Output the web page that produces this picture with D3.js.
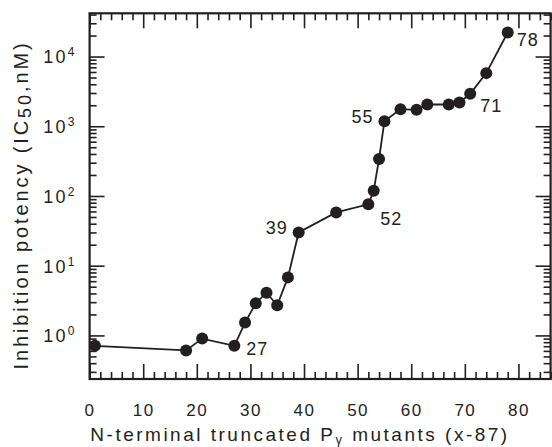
<!DOCTYPE html>
<html>
<head>
<meta charset="utf-8">
<script src="https://cdn.jsdelivr.net/npm/d3@7"></script>
<style>
  body { margin: 0; background: #fff; }
  text { font-family: "Liberation Sans", Arial, sans-serif; fill: #231f20; }
</style>
</head>
<body>
<svg width="552" height="447"></svg>
<script>
'use strict';

// truncation position (x-87) and IC50 (nM)
const mutants = [1, 18, 21, 27, 29, 31, 33, 35, 37, 39, 46, 52, 53, 54, 55, 58, 61, 63, 67, 69, 71, 74, 78]
const ic50 = [0.71, 0.61, 0.90, 0.71, 1.53, 2.9, 4.1, 2.7, 6.8, 30, 58, 76, 119, 340, 1180, 1760, 1720, 2050, 2050, 2190, 2920, 5780, 22100]
const labelled = [27, 39, 52, 55, 71, 78]
const xTicks = [0, 10, 20, 30, 40, 50, 60, 70, 80]
const yDecades = [0, 1, 2, 3, 4]

const data = mutants.map((m, i) => ({ x: m, y: ic50[i] }))

const svg = d3.select('svg')
const pLeft = 89.6, pRight = 550.6, pTop = 13.3, pBottom = 379

const x = d3.scaleLinear().domain([0, 86]).range([pLeft, pRight])
const y = d3.scaleLog().domain([Math.pow(10, -0.625), Math.pow(10, 4.62)]).range([pBottom, pTop])

// minor ticks
const xMinor = d3.range(0, 87, 2).filter((v) => v % 10 !== 0)
const yMinor = []
yDecades.concat([-1]).forEach((e) => {
  for (let k = 2; k <= 9; k++) {
    const v = k * Math.pow(10, e)
    if (v > y.domain()[0] && v < y.domain()[1]) yMinor.push(v)
  }
})

const styleAxis = (g) => {
  g.select('.domain').remove()
  g.selectAll('.tick line').attr('stroke', '#231f20').attr('stroke-width', 1.6)
}

// bottom
svg.append('g').attr('transform', `translate(0,${pBottom})`)
  .call(d3.axisBottom(x).tickValues(xMinor).tickSize(-7).tickFormat(''))
  .call(styleAxis)
svg.append('g').attr('transform', `translate(0,${pBottom})`)
  .call(d3.axisBottom(x).tickValues(xTicks).tickSize(-15).tickPadding(25))
  .call(styleAxis)
  .call((g) => g.selectAll('text').attr('font-size', 17).attr('letter-spacing', 1.5).attr('fill', '#231f20'))

// top
svg.append('g').attr('transform', `translate(0,${pTop})`)
  .call(d3.axisTop(x).tickValues(xMinor).tickSize(-7).tickFormat(''))
  .call(styleAxis)
svg.append('g').attr('transform', `translate(0,${pTop})`)
  .call(d3.axisTop(x).tickValues(xTicks).tickSize(-15).tickFormat(''))
  .call(styleAxis)

// left
svg.append('g').attr('transform', `translate(${pLeft},0)`)
  .call(d3.axisLeft(y).tickValues(yMinor).tickSize(-7).tickFormat(''))
  .call(styleAxis)
svg.append('g').attr('transform', `translate(${pLeft},0)`)
  .call(d3.axisLeft(y).tickValues(yDecades.map((e) => Math.pow(10, e))).tickSize(-15).tickFormat(''))
  .call(styleAxis)
  .call((g) => g.selectAll('.tick').each(function(d, i) {
    const t = d3.select(this).append('text')
      .attr('x', -13).attr('dy', '0.35em').attr('text-anchor', 'end')
      .attr('font-size', 18).attr('letter-spacing', 2.2)
    t.append('tspan').text('10')
    t.append('tspan').attr('font-size', 12).attr('dy', -7).text(yDecades[i])
  }))

// right
svg.append('g').attr('transform', `translate(${pRight},0)`)
  .call(d3.axisRight(y).tickValues(yMinor).tickSize(-7).tickFormat(''))
  .call(styleAxis)
svg.append('g').attr('transform', `translate(${pRight},0)`)
  .call(d3.axisRight(y).tickValues(yDecades.map((e) => Math.pow(10, e))).tickSize(-15).tickFormat(''))
  .call(styleAxis)

// frame
svg.append('rect')
  .attr('x', pLeft).attr('y', pTop)
  .attr('width', pRight - pLeft).attr('height', pBottom - pTop)
  .attr('fill', 'none').attr('stroke', '#231f20').attr('stroke-width', 2.2)

// line + points
const line = d3.line().x((d) => x(d.x)).y((d) => y(d.y))
svg.append('path').datum(data)
  .attr('d', line)
  .attr('fill', 'none')
  .attr('stroke', '#231f20')
  .attr('stroke-width', 1.8)

svg.selectAll('circle.pt').data(data).enter()
  .append('circle').classed('pt', true)
  .attr('cx', (d) => x(d.x))
  .attr('cy', (d) => y(d.y))
  .attr('r', 6)
  .attr('fill', '#231f20')

// point labels: [dx, dy, anchor]
const labelPos = {
  27: [12, 3, 'start'],
  39: [-11, -5, 'end'],
  52: [12, 14, 'start'],
  55: [-11, -5, 'end'],
  71: [10, 12, 'start'],
  78: [9, 7, 'start']
}
svg.selectAll('text.pl').data(data.filter((d) => labelled.includes(d.x))).enter()
  .append('text').classed('pl', true)
  .attr('x', (d) => x(d.x) + labelPos[d.x][0])
  .attr('y', (d) => y(d.y) + labelPos[d.x][1])
  .attr('dy', '0.35em')
  .attr('text-anchor', (d) => labelPos[d.x][2])
  .attr('font-size', 18)
  .attr('letter-spacing', 1)
  .text((d) => d.x)

// axis titles
const yt = svg.append('text')
  .attr('transform', `translate(28,205) rotate(-90)`)
  .attr('text-anchor', 'middle')
  .attr('font-size', 20)
  .attr('letter-spacing', 2.9)
yt.append('tspan').text('Inhibition potency (IC')
yt.append('tspan').attr('font-size', 18).attr('dy', 3).text('50')
yt.append('tspan').attr('dy', -3).text(',nM)')

const xt = svg.append('text')
  .attr('x', 300).attr('y', 441)
  .attr('text-anchor', 'middle')
  .attr('font-size', 19)
  .attr('letter-spacing', 2.5)
xt.append('tspan').text('N-terminal truncated P')
xt.append('tspan').attr('font-size', 13).attr('dy', 3).text('γ')
xt.append('tspan').attr('dy', -3).text(' mutants (x-87)')
</script>
</body>
</html>
